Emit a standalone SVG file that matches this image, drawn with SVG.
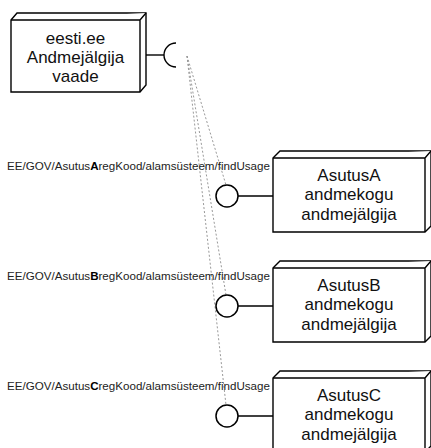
<svg xmlns="http://www.w3.org/2000/svg" width="431" height="448" viewBox="0 0 431 448">
<style>
.box{fill:#fff;stroke:#000;stroke-width:1.4;stroke-linejoin:miter}
.t{font-family:"Liberation Sans",Arial,sans-serif;font-size:17px;fill:#111;text-anchor:middle}
.lbl{font-family:"Liberation Sans",Arial,sans-serif;font-size:11.6px;fill:#222}
.lbl tspan.b{font-weight:bold;fill:#000}
.dot{fill:none;stroke:#999;stroke-width:1;stroke-dasharray:2 2}
.ln{fill:none;stroke:#000;stroke-width:1.4}
.lol{fill:#fff;stroke:#000;stroke-width:1.5}
</style>
<rect width="431" height="448" fill="#fff"/>
<g id="connectors">
<line class="dot" x1="187" y1="56" x2="226" y2="185"/>
<line class="dot" x1="187" y1="56" x2="226" y2="295"/>
<line class="dot" x1="187" y1="56" x2="226" y2="405"/>
</g>
<g id="eesti">
<path class="box" d="M11 20 L17 13 L146 13 L146 85 L140 92 L11 92 Z"/>
<path class="box" d="M11 20 L140 20 L146 13 M140 20 L140 92"/>
<line class="ln" x1="146" y1="55" x2="164" y2="55"/>
<path class="ln" d="M176 43 A12 12 0 0 0 176 67"/>
<text class="t" x="75.5" y="44">eesti.ee</text>
<text class="t" x="75.5" y="63">Andmejälgija</text>
<text class="t" x="75.5" y="82">vaade</text>
</g>
<g id="asutusA">
<text class="lbl" x="7" y="170">EE/GOV/Asutus<tspan class="b">A</tspan>regKood/alamsüsteem/findUsage</text>
<line class="ln" x1="238" y1="196" x2="273" y2="196"/>
<circle class="lol" cx="227" cy="196" r="11"/>
<path class="box" d="M273 158 L280 151 L431 151 L431 226 L425 232 L273 232 Z"/>
<path class="box" d="M273 158 L425 158 L431 151 M425 158 L425 232"/>
<text class="t" x="349" y="180.5">AsutusA</text>
<text class="t" x="349" y="200">andmekogu</text>
<text class="t" x="349" y="219.5">andmejälgija</text>
</g>
<g id="asutusB">
<text class="lbl" x="7" y="280">EE/GOV/Asutus<tspan class="b">B</tspan>regKood/alamsüsteem/findUsage</text>
<line class="ln" x1="238" y1="306" x2="273" y2="306"/>
<circle class="lol" cx="227" cy="306" r="11"/>
<path class="box" d="M273 268 L280 261 L431 261 L431 336 L425 342 L273 342 Z"/>
<path class="box" d="M273 268 L425 268 L431 261 M425 268 L425 342"/>
<text class="t" x="349" y="290.5">AsutusB</text>
<text class="t" x="349" y="310">andmekogu</text>
<text class="t" x="349" y="329.5">andmejälgija</text>
</g>
<g id="asutusC">
<text class="lbl" x="7" y="390">EE/GOV/Asutus<tspan class="b">C</tspan>regKood/alamsüsteem/findUsage</text>
<line class="ln" x1="238" y1="416" x2="273" y2="416"/>
<circle class="lol" cx="227" cy="416" r="11"/>
<path class="box" d="M273 378 L280 371 L431 371 L431 446 L425 452 L273 452 Z"/>
<path class="box" d="M273 378 L425 378 L431 371 M425 378 L425 452"/>
<text class="t" x="349" y="400.5">AsutusC</text>
<text class="t" x="349" y="420">andmekogu</text>
<text class="t" x="349" y="439.5">andmejälgija</text>
</g>
</svg>
